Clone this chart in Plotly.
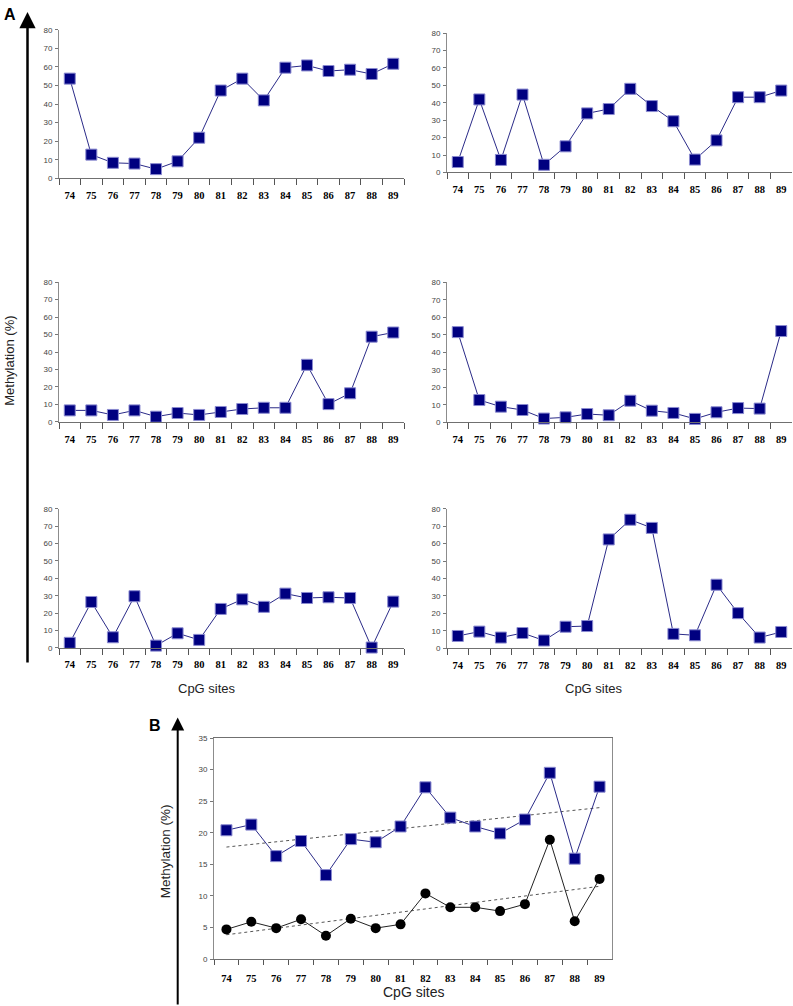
import numpy as np
import plotly.graph_objects as go

W, H = 793, 1006

sites = [str(s) for s in range(74, 90)]

panel1 = [53.7, 12.8, 8.4, 8.0, 5.0, 9.2, 21.9, 47.3, 53.7, 42.0, 59.6, 60.8, 57.8, 58.5, 56.2, 61.7]
panel2 = [6.0, 41.9, 7.2, 44.7, 4.4, 15.0, 33.9, 36.4, 48.0, 38.1, 29.4, 7.4, 18.4, 43.2, 43.2, 47.0]
panel3 = [6.6, 6.6, 4.0, 6.6, 3.0, 5.1, 4.0, 5.7, 7.4, 8.1, 8.1, 32.7, 10.2, 16.4, 48.8, 51.2]
panel4 = [51.6, 12.7, 8.9, 7.0, 2.1, 2.8, 4.7, 4.0, 12.3, 6.6, 5.3, 1.9, 5.7, 8.1, 7.8, 52.2]
panel5 = [2.9, 26.4, 6.1, 29.7, 1.3, 8.4, 4.6, 22.4, 27.9, 23.6, 31.2, 28.7, 29.1, 28.7, 0.2, 26.6]
panel6 = [7.0, 9.5, 6.1, 8.7, 4.4, 12.3, 12.7, 62.4, 73.7, 69.0, 8.2, 7.4, 36.4, 20.1, 6.1, 9.3]

b_squares = [20.4, 21.3, 16.3, 18.7, 13.3, 19.0, 18.5, 21.0, 27.2, 22.4, 21.0, 19.9, 22.1, 29.5, 15.9, 27.3]
b_circles = [4.7, 5.9, 4.9, 6.3, 3.7, 6.4, 4.9, 5.5, 10.4, 8.2, 8.2, 7.6, 8.7, 18.9, 6.0, 12.7]

a_yticks = [0, 10, 20, 30, 40, 50, 60, 70, 80]
b_yticks = [0, 5, 10, 15, 20, 25, 30, 35]

# pixel boxes in window coordinates: (x0, x1, ytop, ybottom)
boxes = [
    (59, 404, 26, 176),
    (447, 792, 29.3, 170),
    (59, 404, 280.7, 421.7),
    (447, 792, 281, 422),
    (59, 404, 509.3, 649.7),
    (447, 792, 509.3, 650),
    (214, 612, 740.7, 963.7),
]

NAVY = "#000080"
LINE = "#2b2b88"
GRAY = "#8c8c8c"


def fx(x):
    return x / W


def fy(y):
    return 1 - y / H


fig = go.Figure()

panels = [panel1, panel2, panel3, panel4, panel5, panel6]
layout = {}
for i, (x0, x1, yt, yb) in enumerate(boxes):
    n = i + 1
    sfx = "" if n == 1 else str(n)
    is_b = n == 7
    layout["xaxis" + sfx] = dict(
        domain=[fx(x0), fx(x1)],
        anchor="y" + sfx,
        type="category",
        categoryorder="array",
        categoryarray=sites,
        range=[-0.5, 15.5],
        tickson="boundaries",
        ticks="outside",
        ticklen=6 if not is_b else 5,
        tickcolor="#555555",
        showline=True,
        linecolor="#707070",
        linewidth=1,
        mirror=is_b,
        showgrid=False,
        zeroline=False,
        tickfont=dict(family="Liberation Serif", size=10.5, color="black", weight="bold"),
        ticklabelstandoff=7 if not is_b else 9,
        fixedrange=True,
    )
    layout["yaxis" + sfx] = dict(
        domain=[fy(yb), fy(yt)],
        anchor="x" + sfx,
        range=[0, 35] if is_b else [0, 80],
        tickvals=b_yticks if is_b else a_yticks,
        ticks="outside",
        ticklen=3,
        tickcolor="#777777",
        showline=True,
        linecolor=GRAY,
        linewidth=1,
        mirror=is_b,
        showgrid=False,
        zeroline=False,
        tickfont=dict(family="Liberation Sans", size=8, color="#444444"),
        ticklabelstandoff=1,
        fixedrange=True,
    )

for i, vals in enumerate(panels):
    n = i + 1
    sfx = "" if n == 1 else str(n)
    fig.add_trace(go.Scatter(
        x=sites, y=vals, xaxis="x" + sfx, yaxis="y" + sfx,
        mode="lines+markers",
        line=dict(color=LINE, width=1),
        marker=dict(symbol="square", size=11, color=NAVY,
                    line=dict(color="#8a8ad0", width=1)),
        cliponaxis=False, showlegend=False,
    ))

# Panel B trendlines (linear regression of each series)
idx = np.arange(len(sites))
for vals in (b_squares, b_circles):
    k, c = np.polyfit(idx, vals, 1)
    fig.add_trace(go.Scatter(
        x=sites, y=list(k * idx + c), xaxis="x7", yaxis="y7",
        mode="lines", line=dict(color="#555555", width=1, dash="dot"),
        showlegend=False, hoverinfo="skip",
    ))

fig.add_trace(go.Scatter(
    x=sites, y=b_squares, xaxis="x7", yaxis="y7",
    mode="lines+markers",
    line=dict(color=LINE, width=1),
    marker=dict(symbol="square", size=11, color=NAVY,
                line=dict(color="#8a8ad0", width=1)),
    cliponaxis=False, showlegend=False,
))
fig.add_trace(go.Scatter(
    x=sites, y=b_circles, xaxis="x7", yaxis="y7",
    mode="lines+markers",
    line=dict(color="#222222", width=1),
    marker=dict(symbol="circle", size=10, color="black",
                line=dict(color="black", width=0)),
    cliponaxis=False, showlegend=False,
))

annotations = []
# Arrows (tip position, tail offset in pixels)
annotations.append(dict(x=fx(27.5), y=fy(8), xref="paper", yref="paper", text="",
                        showarrow=True, ax=0, ay=652, axref="pixel", ayref="pixel",
                        arrowhead=2, arrowsize=1.3, arrowwidth=2.5, arrowcolor="black"))
annotations.append(dict(x=fx(177.7), y=fy(720), xref="paper", yref="paper", text="",
                        showarrow=True, ax=0, ay=290, axref="pixel", ayref="pixel",
                        arrowhead=2, arrowsize=1.3, arrowwidth=2, arrowcolor="black"))


def txt(x, y, s, size, angle=0, bold=False, color="black"):
    return dict(x=fx(x), y=fy(y), xref="paper", yref="paper", text=s, showarrow=False,
                xanchor="center", yanchor="middle", textangle=angle,
                font=dict(family="Liberation Sans", size=size, color=color,
                          weight="bold" if bold else "normal"))


annotations.append(txt(10, 11, "A", 16, bold=True))
annotations.append(txt(155, 728, "B", 16, bold=True))
annotations.append(txt(10, 360, "Methylation (%)", 13, angle=-90, color="#222222"))
annotations.append(txt(165, 855, "Methylation (%)", 13.5, angle=-90, color="#222222"))
annotations.append(txt(207, 691, "CpG sites", 13, color="#222222"))
annotations.append(txt(594, 691, "CpG sites", 13, color="#222222"))
annotations.append(txt(413, 997, "CpG sites", 14, color="#222222"))

fig.update_layout(
    width=W, height=H,
    margin=dict(l=0, r=0, t=0, b=0),
    paper_bgcolor="white", plot_bgcolor="white",
    annotations=annotations,
    showlegend=False,
    **layout,
)

fig.write_html(
    "out.html",
    config={"displayModeBar": False},
    post_script="document.body.style.margin='0';document.body.style.overflow='hidden';",
)
